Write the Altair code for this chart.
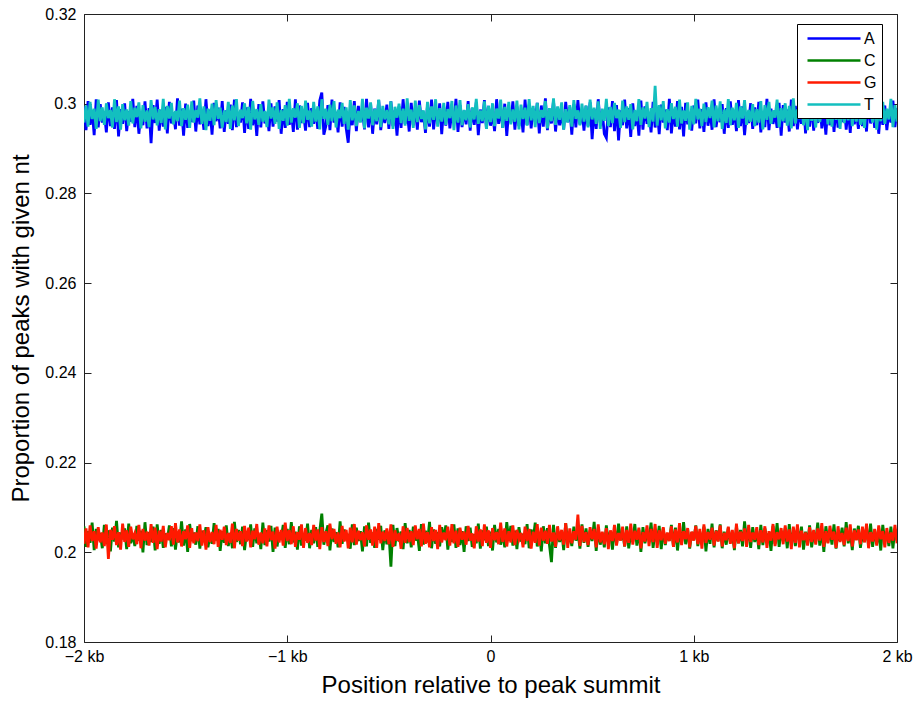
import altair as alt
import pandas as pd

# Positions (bp relative to peak summit), one value every 10 bp
POSITIONS_BP = list(range(-2000, 2001, 10))

SERIES = ["A", "C", "G", "T"]
COLORS = ["#0000ff", "#008000", "#ff1a00", "#13bfbf"]

A_VALUES = [
    0.2994, 0.2941, 0.3006, 0.2953, 0.2985, 0.2930, 0.3010, 0.2947, 0.2999, 0.2958,
    0.2981, 0.2936, 0.3003, 0.2950, 0.2992, 0.2944, 0.3008, 0.2927, 0.2988, 0.2955,
    0.3001, 0.2939, 0.2983, 0.2960, 0.3011, 0.2948, 0.2995, 0.2933, 0.2979, 0.2952,
    0.3005, 0.2945, 0.2990, 0.2912, 0.2997, 0.2957, 0.3009, 0.2940, 0.2986, 0.2949,
    0.2993, 0.2934, 0.3004, 0.2956, 0.2980, 0.2943, 0.3012, 0.2951, 0.2989, 0.2929,
    0.3000, 0.2946, 0.2984, 0.2959, 0.3007, 0.2938, 0.2996, 0.2954, 0.2982, 0.2942,
    0.3010, 0.2950, 0.2987, 0.2931, 0.3002, 0.2961, 0.2991, 0.2945, 0.3006, 0.2937,
    0.2985, 0.2955, 0.2998, 0.2941, 0.3009, 0.2948, 0.2981, 0.2958, 0.3003, 0.2935,
    0.2992, 0.2944, 0.3011, 0.2952, 0.2986, 0.2928, 0.2999, 0.2947, 0.3005, 0.2956,
    0.2980, 0.2939, 0.3001, 0.2949, 0.2994, 0.2960, 0.3008, 0.2933, 0.2988, 0.2946,
    0.3004, 0.2953, 0.2983, 0.2937, 0.3010, 0.2942, 0.2996, 0.2957, 0.2979, 0.2940,
    0.3002, 0.2948, 0.2990, 0.2955, 0.2985, 0.2944, 0.3007, 0.3025, 0.2931, 0.2950,
    0.2997, 0.2941, 0.3009, 0.2958, 0.2982, 0.2936, 0.3003, 0.2949, 0.2993, 0.2945,
    0.2913, 0.2987, 0.2952, 0.3006, 0.2939, 0.2995, 0.2960, 0.2984, 0.2943, 0.3011,
    0.2947, 0.3000, 0.2933, 0.2989, 0.2954, 0.3008, 0.2941, 0.2981, 0.2957, 0.2998,
    0.2944, 0.3005, 0.2950, 0.2986, 0.2929, 0.2994, 0.2946, 0.3010, 0.2955, 0.2983,
    0.2938, 0.3002, 0.2952, 0.2991, 0.2942, 0.3007, 0.2959, 0.2980, 0.2935, 0.2996,
    0.2949, 0.3009, 0.2943, 0.2988, 0.2956, 0.3001, 0.2932, 0.2993, 0.2951, 0.3004,
    0.2945, 0.2982, 0.2958, 0.3011, 0.2937, 0.2997, 0.2948, 0.2985, 0.2954, 0.3006,
    0.2940, 0.2990, 0.2953, 0.3003, 0.2930, 0.2987, 0.2957, 0.3008, 0.2944, 0.2995,
    0.2951, 0.2981, 0.2939, 0.3010, 0.2955, 0.2992, 0.2946, 0.3000, 0.2928, 0.2986,
    0.2958, 0.3005, 0.2942, 0.2994, 0.2950, 0.2983, 0.2936, 0.3009, 0.2953, 0.2998,
    0.2945, 0.2989, 0.2960, 0.3002, 0.2934, 0.2996, 0.2949, 0.3012, 0.2941, 0.2984,
    0.2956, 0.3007, 0.2938, 0.2991, 0.2952, 0.2980, 0.2943, 0.3004, 0.2959, 0.2993,
    0.2931, 0.2999, 0.2947, 0.3008, 0.2954, 0.2986, 0.2940, 0.2995, 0.2950, 0.3003,
    0.2921, 0.2988, 0.2944, 0.3010, 0.2957, 0.2982, 0.2933, 0.2924, 0.2992, 0.2948,
    0.3006, 0.2939, 0.2997, 0.2918, 0.2985, 0.2952, 0.3009, 0.2945, 0.2990, 0.2926,
    0.3001, 0.2950, 0.2983, 0.2929, 0.3007, 0.2942, 0.2994, 0.2955, 0.2980, 0.2936,
    0.3004, 0.2947, 0.2991, 0.2932, 0.2998, 0.2958, 0.2987, 0.2941, 0.3011, 0.2934,
    0.2984, 0.2949, 0.3006, 0.2943, 0.2993, 0.2927, 0.3002, 0.2954, 0.2981, 0.2940,
    0.2996, 0.2956, 0.3009, 0.2945, 0.2988, 0.2937, 0.3003, 0.2951, 0.2985, 0.2942,
    0.3010, 0.2948, 0.2982, 0.2959, 0.2999, 0.2933, 0.2990, 0.2946, 0.3005, 0.2953,
    0.2986, 0.2939, 0.3008, 0.2950, 0.2994, 0.2930, 0.2981, 0.2957, 0.3001, 0.2944,
    0.2992, 0.2952, 0.3004, 0.2936, 0.2983, 0.2948, 0.3011, 0.2941, 0.2989, 0.2955,
    0.2980, 0.2946, 0.3002, 0.2929, 0.2997, 0.2958, 0.2987, 0.2938, 0.3009, 0.2950,
    0.2995, 0.2943, 0.2984, 0.2955, 0.3006, 0.2934, 0.2991, 0.2949, 0.3000, 0.2940,
    0.2988, 0.2957, 0.3010, 0.2945, 0.2982, 0.2931, 0.2998, 0.2952, 0.3005, 0.2937,
    0.2993, 0.2947, 0.2985, 0.2959, 0.3003, 0.2942, 0.2990, 0.2935, 0.3008, 0.2954,
    0.2981, 0.2944, 0.2999, 0.2950, 0.2987, 0.2938, 0.3011, 0.2956, 0.2992, 0.2946,
    0.3004, 0.2933, 0.2989, 0.2953, 0.2996, 0.2941, 0.2983, 0.2958, 0.3007, 0.2948,
    0.2990,
]

C_VALUES = [
    0.2058, 0.2012, 0.2047, 0.2021, 0.2066, 0.2005, 0.2052, 0.2027, 0.2043, 0.2009,
    0.2061, 0.2018, 0.2049, 0.2002, 0.2055, 0.2024, 0.2070, 0.2011, 0.2044, 0.2029,
    0.2053, 0.2007, 0.2064, 0.2020, 0.2041, 0.2014, 0.2059, 0.2026, 0.2048, 0.2000,
    0.2067, 0.2016, 0.2045, 0.2023, 0.2057, 0.2004, 0.2062, 0.2019, 0.2050, 0.2010,
    0.2042, 0.2028, 0.2060, 0.2013, 0.2054, 0.2006, 0.2046, 0.2022, 0.2069, 0.2015,
    0.2051, 0.2001, 0.2063, 0.2025, 0.2044, 0.2017, 0.2058, 0.2008, 0.2048, 0.2030,
    0.2056, 0.2011, 0.2040, 0.2019, 0.2065, 0.2026, 0.2052, 0.2003, 0.2047, 0.2021,
    0.2060, 0.2014, 0.2043, 0.2009, 0.2068, 0.2023, 0.2050, 0.2018, 0.2057, 0.2005,
    0.2045, 0.2027, 0.2062, 0.2012, 0.2053, 0.2020, 0.2041, 0.2007, 0.2066, 0.2016,
    0.2049, 0.2024, 0.2059, 0.2001, 0.2055, 0.2013, 0.2044, 0.2029, 0.2061, 0.2010,
    0.2052, 0.2018, 0.2067, 0.2022, 0.2046, 0.2006, 0.2058, 0.2015, 0.2042, 0.2026,
    0.2064, 0.2009, 0.2050, 0.2020, 0.2056, 0.2012, 0.2048, 0.2086, 0.2017, 0.2043,
    0.2060, 0.2004, 0.2053, 0.2023, 0.2045, 0.2011, 0.2069, 0.2019, 0.2051, 0.2027,
    0.2041, 0.2008, 0.2062, 0.2016, 0.2055, 0.2025, 0.2047, 0.2002, 0.2058, 0.2013,
    0.2066, 0.2021, 0.2044, 0.2010, 0.2052, 0.2028, 0.2059, 0.2005, 0.2049, 0.2018,
    0.2043, 0.1968, 0.2061, 0.2014, 0.2054, 0.2024, 0.2046, 0.2007, 0.2065, 0.2020,
    0.2050, 0.2011, 0.2057, 0.2026, 0.2042, 0.2003, 0.2063, 0.2017, 0.2048, 0.2022,
    0.2068, 0.2009, 0.2051, 0.2019, 0.2045, 0.2013, 0.2056, 0.2029, 0.2060, 0.2006,
    0.2044, 0.2023, 0.2062, 0.2010, 0.2053, 0.2016, 0.2047, 0.2001, 0.2058, 0.2025,
    0.2055, 0.2012, 0.2040, 0.2020, 0.2064, 0.2008, 0.2049, 0.2027, 0.2057, 0.2014,
    0.2046, 0.2004, 0.2061, 0.2022, 0.2052, 0.2017, 0.2043, 0.2011, 0.2067, 0.2026,
    0.2059, 0.2015, 0.2048, 0.2007, 0.2056, 0.2024, 0.2041, 0.2018, 0.2063, 0.2009,
    0.2051, 0.2028, 0.2066, 0.2013, 0.2044, 0.2002, 0.2058, 0.2020, 0.2054, 0.2016,
    0.1978, 0.2061, 0.2010, 0.2050, 0.2023, 0.2047, 0.2005, 0.2065, 0.2019, 0.2042,
    0.2014, 0.2057, 0.2026, 0.2045, 0.2008, 0.2062, 0.2021, 0.2053, 0.2012, 0.2049,
    0.2025, 0.2068, 0.2003, 0.2055, 0.2017, 0.2043, 0.2011, 0.2060, 0.2022, 0.2047,
    0.2006, 0.2052, 0.2019, 0.2064, 0.2027, 0.2046, 0.2013, 0.2058, 0.2009, 0.2041,
    0.2024, 0.2063, 0.2015, 0.2050, 0.2001, 0.2056, 0.2020, 0.2044, 0.2028, 0.2066,
    0.2010, 0.2048, 0.2023, 0.2059, 0.2007, 0.2053, 0.2016, 0.2042, 0.2026, 0.2061,
    0.2012, 0.2055, 0.2004, 0.2047, 0.2021, 0.2067, 0.2018, 0.2051, 0.2008, 0.2045,
    0.2027, 0.2060, 0.2014, 0.2043, 0.2024, 0.2057, 0.2002, 0.2052, 0.2019, 0.2064,
    0.2011, 0.2049, 0.2025, 0.2062, 0.2009, 0.2046, 0.2017, 0.2055, 0.2022, 0.2041,
    0.2005, 0.2058, 0.2020, 0.2050, 0.2013, 0.2069, 0.2026, 0.2044, 0.2010, 0.2056,
    0.2023, 0.2047, 0.2007, 0.2061, 0.2016, 0.2053, 0.2028, 0.2042, 0.2003, 0.2059,
    0.2018, 0.2065, 0.2012, 0.2048, 0.2025, 0.2054, 0.2009, 0.2063, 0.2021, 0.2045,
    0.2014, 0.2051, 0.2027, 0.2057, 0.2006, 0.2046, 0.2019, 0.2060, 0.2011, 0.2043,
    0.2024, 0.2066, 0.2015, 0.2052, 0.2001, 0.2058, 0.2022, 0.2049, 0.2017, 0.2062,
    0.2008, 0.2044, 0.2026, 0.2055, 0.2013, 0.2067, 0.2020, 0.2047, 0.2005, 0.2053,
    0.2028, 0.2059, 0.2010, 0.2041, 0.2023, 0.2056, 0.2016, 0.2064, 0.2012, 0.2050,
    0.2019, 0.2048, 0.2004, 0.2061, 0.2025, 0.2045, 0.2014, 0.2057, 0.2009, 0.2052,
    0.2027,
]

G_VALUES = [
    0.2019, 0.2053, 0.2011, 0.2060, 0.2025, 0.2047, 0.2008, 0.2056, 0.2022, 0.2044,
    0.2014, 0.2062, 0.1985, 0.2050, 0.2028, 0.2058, 0.2016, 0.2045, 0.2006, 0.2064,
    0.2023, 0.2049, 0.2012, 0.2057, 0.2029, 0.2042, 0.2018, 0.2061, 0.2009, 0.2052,
    0.2026, 0.2046, 0.2015, 0.2063, 0.2021, 0.2055, 0.2007, 0.2048, 0.2024, 0.2059,
    0.2011, 0.2043, 0.2027, 0.2058, 0.2017, 0.2065, 0.2022, 0.2051, 0.2013, 0.2047,
    0.2029, 0.2060, 0.2010, 0.2054, 0.2020, 0.2044, 0.2025, 0.2062, 0.2015, 0.2049,
    0.2006, 0.2056, 0.2023, 0.2045, 0.2018, 0.2061, 0.2012, 0.2050, 0.2028, 0.2057,
    0.2016, 0.2043, 0.2021, 0.2064, 0.2009, 0.2052, 0.2026, 0.2047, 0.2014, 0.2059,
    0.2024, 0.2055, 0.2011, 0.2048, 0.2029, 0.2063, 0.2017, 0.2044, 0.2020, 0.2053,
    0.2013, 0.2060, 0.2027, 0.2046, 0.2008, 0.2057, 0.2022, 0.2050, 0.2015, 0.2066,
    0.2025, 0.2049, 0.2018, 0.2058, 0.2012, 0.2045, 0.2028, 0.2062, 0.2010, 0.2054,
    0.2021, 0.2043, 0.2016, 0.2061, 0.2026, 0.2051, 0.2007, 0.2056, 0.2023, 0.2047,
    0.2014, 0.2064, 0.2029, 0.2052, 0.2019, 0.2044, 0.2011, 0.2059, 0.2024, 0.2050,
    0.2009, 0.2055, 0.2022, 0.2063, 0.2017, 0.2048, 0.2027, 0.2045, 0.2013, 0.2060,
    0.2028, 0.2051, 0.2015, 0.2057, 0.2010, 0.2065, 0.2020, 0.2046, 0.2025, 0.2053,
    0.2018, 0.2062, 0.2012, 0.2049, 0.2026, 0.2043, 0.2008, 0.2058, 0.2021, 0.2054,
    0.2023, 0.2047, 0.2016, 0.2060, 0.2029, 0.2052, 0.2013, 0.2064, 0.2019, 0.2045,
    0.2011, 0.2056, 0.2025, 0.2050, 0.2007, 0.2061, 0.2022, 0.2044, 0.2027, 0.2057,
    0.2015, 0.2063, 0.2020, 0.2048, 0.2012, 0.2055, 0.2028, 0.2046, 0.2017, 0.2059,
    0.2026, 0.2042, 0.2009, 0.2058, 0.2024, 0.2051, 0.2014, 0.2062, 0.2021, 0.2049,
    0.2010, 0.2054, 0.2027, 0.2045, 0.2018, 0.2066, 0.2023, 0.2053, 0.2013, 0.2047,
    0.2022, 0.2060, 0.2016, 0.2050, 0.2029, 0.2043, 0.2011, 0.2057, 0.2025, 0.2052,
    0.2008, 0.2046, 0.2021, 0.2063, 0.2015, 0.2055, 0.2026, 0.2048, 0.2019, 0.2061,
    0.2024, 0.2044, 0.2012, 0.2058, 0.2027, 0.2050, 0.2017, 0.2065, 0.2010, 0.2053,
    0.2020, 0.2047, 0.2028, 0.2084, 0.2014, 0.2059, 0.2023, 0.2045, 0.2016, 0.2056,
    0.2029, 0.2052, 0.2011, 0.2062, 0.2022, 0.2046, 0.2018, 0.2054, 0.2007, 0.2049,
    0.2025, 0.2061, 0.2015, 0.2043, 0.2026, 0.2057, 0.2013, 0.2050, 0.2021, 0.2064,
    0.2017, 0.2048, 0.2028, 0.2055, 0.2009, 0.2045, 0.2024, 0.2060, 0.2014, 0.2052,
    0.2023, 0.2063, 0.2010, 0.2049, 0.2027, 0.2056, 0.2019, 0.2044, 0.2025, 0.2058,
    0.2012, 0.2051, 0.2022, 0.2065, 0.2016, 0.2047, 0.2029, 0.2054, 0.2011, 0.2046,
    0.2026, 0.2059, 0.2018, 0.2052, 0.2008, 0.2062, 0.2021, 0.2045, 0.2028, 0.2055,
    0.2015, 0.2048, 0.2024, 0.2060, 0.2013, 0.2043, 0.2027, 0.2057, 0.2019, 0.2050,
    0.2009, 0.2064, 0.2020, 0.2046, 0.2025, 0.2053, 0.2012, 0.2061, 0.2023, 0.2044,
    0.2028, 0.2056, 0.2016, 0.2049, 0.2022, 0.2058, 0.2010, 0.2047, 0.2026, 0.2063,
    0.2014, 0.2045, 0.2029, 0.2054, 0.2018, 0.2060, 0.2024, 0.2051, 0.2007, 0.2057,
    0.2021, 0.2062, 0.2011, 0.2048, 0.2027, 0.2044, 0.2015, 0.2056, 0.2023, 0.2050,
    0.2017, 0.2053, 0.2026, 0.2065, 0.2012, 0.2047, 0.2020, 0.2059, 0.2028, 0.2046,
    0.2010, 0.2058, 0.2023, 0.2043, 0.2016, 0.2055, 0.2025, 0.2062, 0.2013, 0.2049,
    0.2027, 0.2051, 0.2018, 0.2057, 0.2022, 0.2064, 0.2009, 0.2045, 0.2024, 0.2052,
    0.2015, 0.2060, 0.2029, 0.2047, 0.2011, 0.2054, 0.2021, 0.2044, 0.2026, 0.2061,
    0.2020,
]

T_VALUES = [
    0.2958, 0.2996, 0.2949, 0.3004, 0.2966, 0.2989, 0.2944, 0.3009, 0.2961, 0.2992,
    0.2953, 0.3001, 0.2968, 0.2986, 0.2947, 0.3010, 0.2959, 0.2994, 0.2942, 0.2999,
    0.2963, 0.2987, 0.2951, 0.3006, 0.2956, 0.2991, 0.2970, 0.3003, 0.2945, 0.2997,
    0.2960, 0.2985, 0.2948, 0.3008, 0.2965, 0.2993, 0.2952, 0.2988, 0.2957, 0.3011,
    0.2943, 0.2995, 0.2967, 0.3002, 0.2954, 0.2984, 0.2961, 0.3007, 0.2950, 0.2990,
    0.2964, 0.2998, 0.2946, 0.3005, 0.2958, 0.2986, 0.2969, 0.3012, 0.2955, 0.2994,
    0.2941, 0.2989, 0.2962, 0.3000, 0.2952, 0.3008, 0.2966, 0.2991, 0.2947, 0.2985,
    0.2959, 0.3004, 0.2944, 0.2996, 0.2963, 0.3010, 0.2950, 0.2987, 0.2968, 0.3001,
    0.2956, 0.2993, 0.2942, 0.3006, 0.2965, 0.2988, 0.2953, 0.2999, 0.2960, 0.2984,
    0.2948, 0.3009, 0.2967, 0.2992, 0.2955, 0.3003, 0.2944, 0.2986, 0.2962, 0.2997,
    0.2951, 0.3011, 0.2958, 0.2990, 0.2969, 0.3001, 0.2946, 0.2995, 0.2957, 0.3007,
    0.2964, 0.2985, 0.2949, 0.3004, 0.2960, 0.2994, 0.2943, 0.3010, 0.2966, 0.2989,
    0.2953, 0.2998, 0.2961, 0.3006, 0.2947, 0.2987, 0.2968, 0.3002, 0.2955, 0.2992,
    0.2942, 0.3008, 0.2963, 0.2996, 0.2950, 0.2984, 0.2958, 0.3011, 0.2945, 0.2991,
    0.2967, 0.3003, 0.2952, 0.2988, 0.2961, 0.3009, 0.2948, 0.2995, 0.2965, 0.2986,
    0.2954, 0.3005, 0.2944, 0.2993, 0.2969, 0.3000, 0.2957, 0.2989, 0.2951, 0.3012,
    0.2962, 0.2987, 0.2946, 0.3007, 0.2959, 0.2997, 0.2966, 0.2985, 0.2943, 0.3004,
    0.2956, 0.2994, 0.2964, 0.3010, 0.2949, 0.2990, 0.2960, 0.3002, 0.2953, 0.2988,
    0.2968, 0.3006, 0.2941, 0.2996, 0.2958, 0.3008, 0.2952, 0.2986, 0.2963, 0.2999,
    0.2947, 0.2992, 0.2965, 0.3011, 0.2955, 0.2985, 0.2961, 0.3005, 0.2944, 0.2995,
    0.2959, 0.3001, 0.2950, 0.2989, 0.2967, 0.3009, 0.2946, 0.2993, 0.2962, 0.3004,
    0.2954, 0.2987, 0.2960, 0.3007, 0.2943, 0.2998, 0.2966, 0.2991, 0.2951, 0.3010,
    0.2963, 0.2995, 0.2948, 0.3002, 0.2957, 0.2986, 0.2969, 0.3006, 0.2945, 0.2990,
    0.2961, 0.3012, 0.2953, 0.2994, 0.2964, 0.3003, 0.2942, 0.2988, 0.2958, 0.2997,
    0.2949, 0.3008, 0.2966, 0.2985, 0.2952, 0.3000, 0.2960, 0.2996, 0.2947, 0.3009,
    0.2965, 0.2991, 0.2955, 0.3005, 0.2944, 0.2989, 0.2962, 0.3011, 0.2950, 0.2993,
    0.2957, 0.3002, 0.2968, 0.2987, 0.2946, 0.3007, 0.2959, 0.2994, 0.2964, 0.2999,
    0.2943, 0.2986, 0.2961, 0.3010, 0.2953, 0.2992, 0.2967, 0.3004, 0.2948, 0.2990,
    0.2960, 0.3040, 0.2951, 0.2997, 0.2963, 0.3006, 0.2945, 0.2988, 0.2958, 0.3001,
    0.2966, 0.2993, 0.2949, 0.3009, 0.2956, 0.2985, 0.2962, 0.3003, 0.2942, 0.2995,
    0.2954, 0.3011, 0.2965, 0.2989, 0.2950, 0.3000, 0.2959, 0.2992, 0.2968, 0.3007,
    0.2947, 0.2996, 0.2961, 0.3005, 0.2944, 0.2987, 0.2957, 0.3010, 0.2952, 0.2991,
    0.2963, 0.3002, 0.2946, 0.2994, 0.2967, 0.3008, 0.2953, 0.2986, 0.2960, 0.2999,
    0.2950, 0.2988, 0.2958, 0.3006, 0.2943, 0.2997, 0.2964, 0.3004, 0.2955, 0.2985,
    0.2969, 0.3009, 0.2948, 0.2990, 0.2961, 0.3001, 0.2951, 0.2995, 0.2945, 0.3012,
    0.2956, 0.2987, 0.2966, 0.3003, 0.2952, 0.2993, 0.2941, 0.3007, 0.2962, 0.2989,
    0.2947, 0.3000, 0.2959, 0.2985, 0.2968, 0.3010, 0.2954, 0.2996, 0.2949, 0.3005,
    0.2964, 0.2991, 0.2944, 0.3008, 0.2957, 0.2988, 0.2963, 0.3018, 0.2950, 0.2994,
    0.2960, 0.3006, 0.2953, 0.2986, 0.2946, 0.3002, 0.2967, 0.2992, 0.2958, 0.3009,
    0.2942, 0.2995, 0.2961, 0.3004, 0.2955, 0.2989, 0.2965, 0.3011, 0.2948, 0.2997,
    0.2960,
]

X_TICKS = [-2000, -1000, 0, 1000, 2000]
Y_TICKS = [0.18, 0.20, 0.22, 0.24, 0.26, 0.28, 0.30, 0.32]

rows = []
for name, vals in zip(SERIES, [A_VALUES, C_VALUES, G_VALUES, T_VALUES]):
    for pos, v in zip(POSITIONS_BP, vals):
        rows.append({"pos": pos, "prop": v, "nt": name})
df = pd.DataFrame(rows)

FONT = "Liberation Sans"
W, H = 813, 628

xscale = alt.Scale(domain=[-2000, 2000], nice=False, zero=False)
yscale = alt.Scale(domain=[0.18, 0.32], nice=False, zero=False)

x_label_expr = ("datum.value == 0 ? '0' : (datum.value < 0 ? '\u2212' : '') + "
                "abs(datum.value) / 1000 + ' kb'")

ax_x_main = alt.Axis(orient="bottom", values=X_TICKS, labelExpr=x_label_expr,
                     ticks=False, domain=False, grid=False,
                     labelFont=FONT, labelFontSize=16, labelColor="black",
                     labelPadding=6, labelFlush=False,
                     title="Position relative to peak summit",
                     titleFont=FONT, titleFontSize=24, titleFontWeight="normal",
                     titleColor="black", titleBaseline="alphabetic", titleY=50)
ax_y_main = alt.Axis(orient="left", values=Y_TICKS, format=".2~f",
                     ticks=False, domain=False, grid=False,
                     labelFont=FONT, labelFontSize=16, labelColor="black",
                     labelPadding=8, labelFlush=False,
                     title="Proportion of peaks with given nt",
                     titleFont=FONT, titleFontSize=24, titleFontWeight="normal",
                     titleColor="black", titleBaseline="alphabetic",
                     titleX=-56, titleY=H / 2, titleAngle=270)


def tick_axis(orient, offset, values):
    return alt.Axis(orient=orient, offset=offset, values=values, labels=False,
                    ticks=True, tickSize=7, tickColor="#222222", tickWidth=1,
                    domain=False, grid=False, title=None)


# inward ticks: bottom edge / left edge
ax_x_in_bottom = tick_axis("top", -H, X_TICKS)
ax_y_in_left = tick_axis("right", -W, Y_TICKS)
# inward ticks: top edge / right edge
ax_x_in_top = tick_axis("bottom", -H, X_TICKS)
ax_y_in_right = tick_axis("left", -W, Y_TICKS)

color = alt.Color(
    "nt:N",
    scale=alt.Scale(domain=SERIES, range=COLORS),
    legend=alt.Legend(
        title=None, orient="none", legendX=713, legendY=10,
        symbolType="M-1,0H5.625", symbolSize=256, symbolStrokeWidth=2.5,
        symbolOffset=4,
        labelFont=FONT, labelFontSize=16, labelColor="black", labelOffset=39,
        strokeColor="black", fillColor="white", padding=5, rowPadding=4,
    ),
)

base = alt.Chart(df).mark_line(strokeWidth=2.8, clip=True)

axes = {
    "A": (ax_x_main, ax_y_main),
    "C": (ax_x_in_bottom, ax_y_in_left),
    "G": (ax_x_in_top, ax_y_in_right),
    "T": (None, None),
}

layers = []
for s in SERIES:
    ax_x, ax_y = axes[s]
    layers.append(
        base.transform_filter(alt.datum.nt == s).encode(
            x=alt.X("pos:Q", scale=xscale, axis=ax_x),
            y=alt.Y("prop:Q", scale=yscale, axis=ax_y),
            color=color,
        )
    )

chart = (
    alt.layer(*layers)
    .resolve_axis(x="independent", y="independent")
    .properties(
        width=W, height=H,
        autosize=alt.AutoSizeParams(type="none"),
        padding={"left": 84, "top": 14, "right": 19, "bottom": 59},
        background="white",
    )
    .configure_view(stroke="#222222", strokeWidth=1)
)

chart.save("out.html", embed_options={"renderer": "svg", "actions": False})
